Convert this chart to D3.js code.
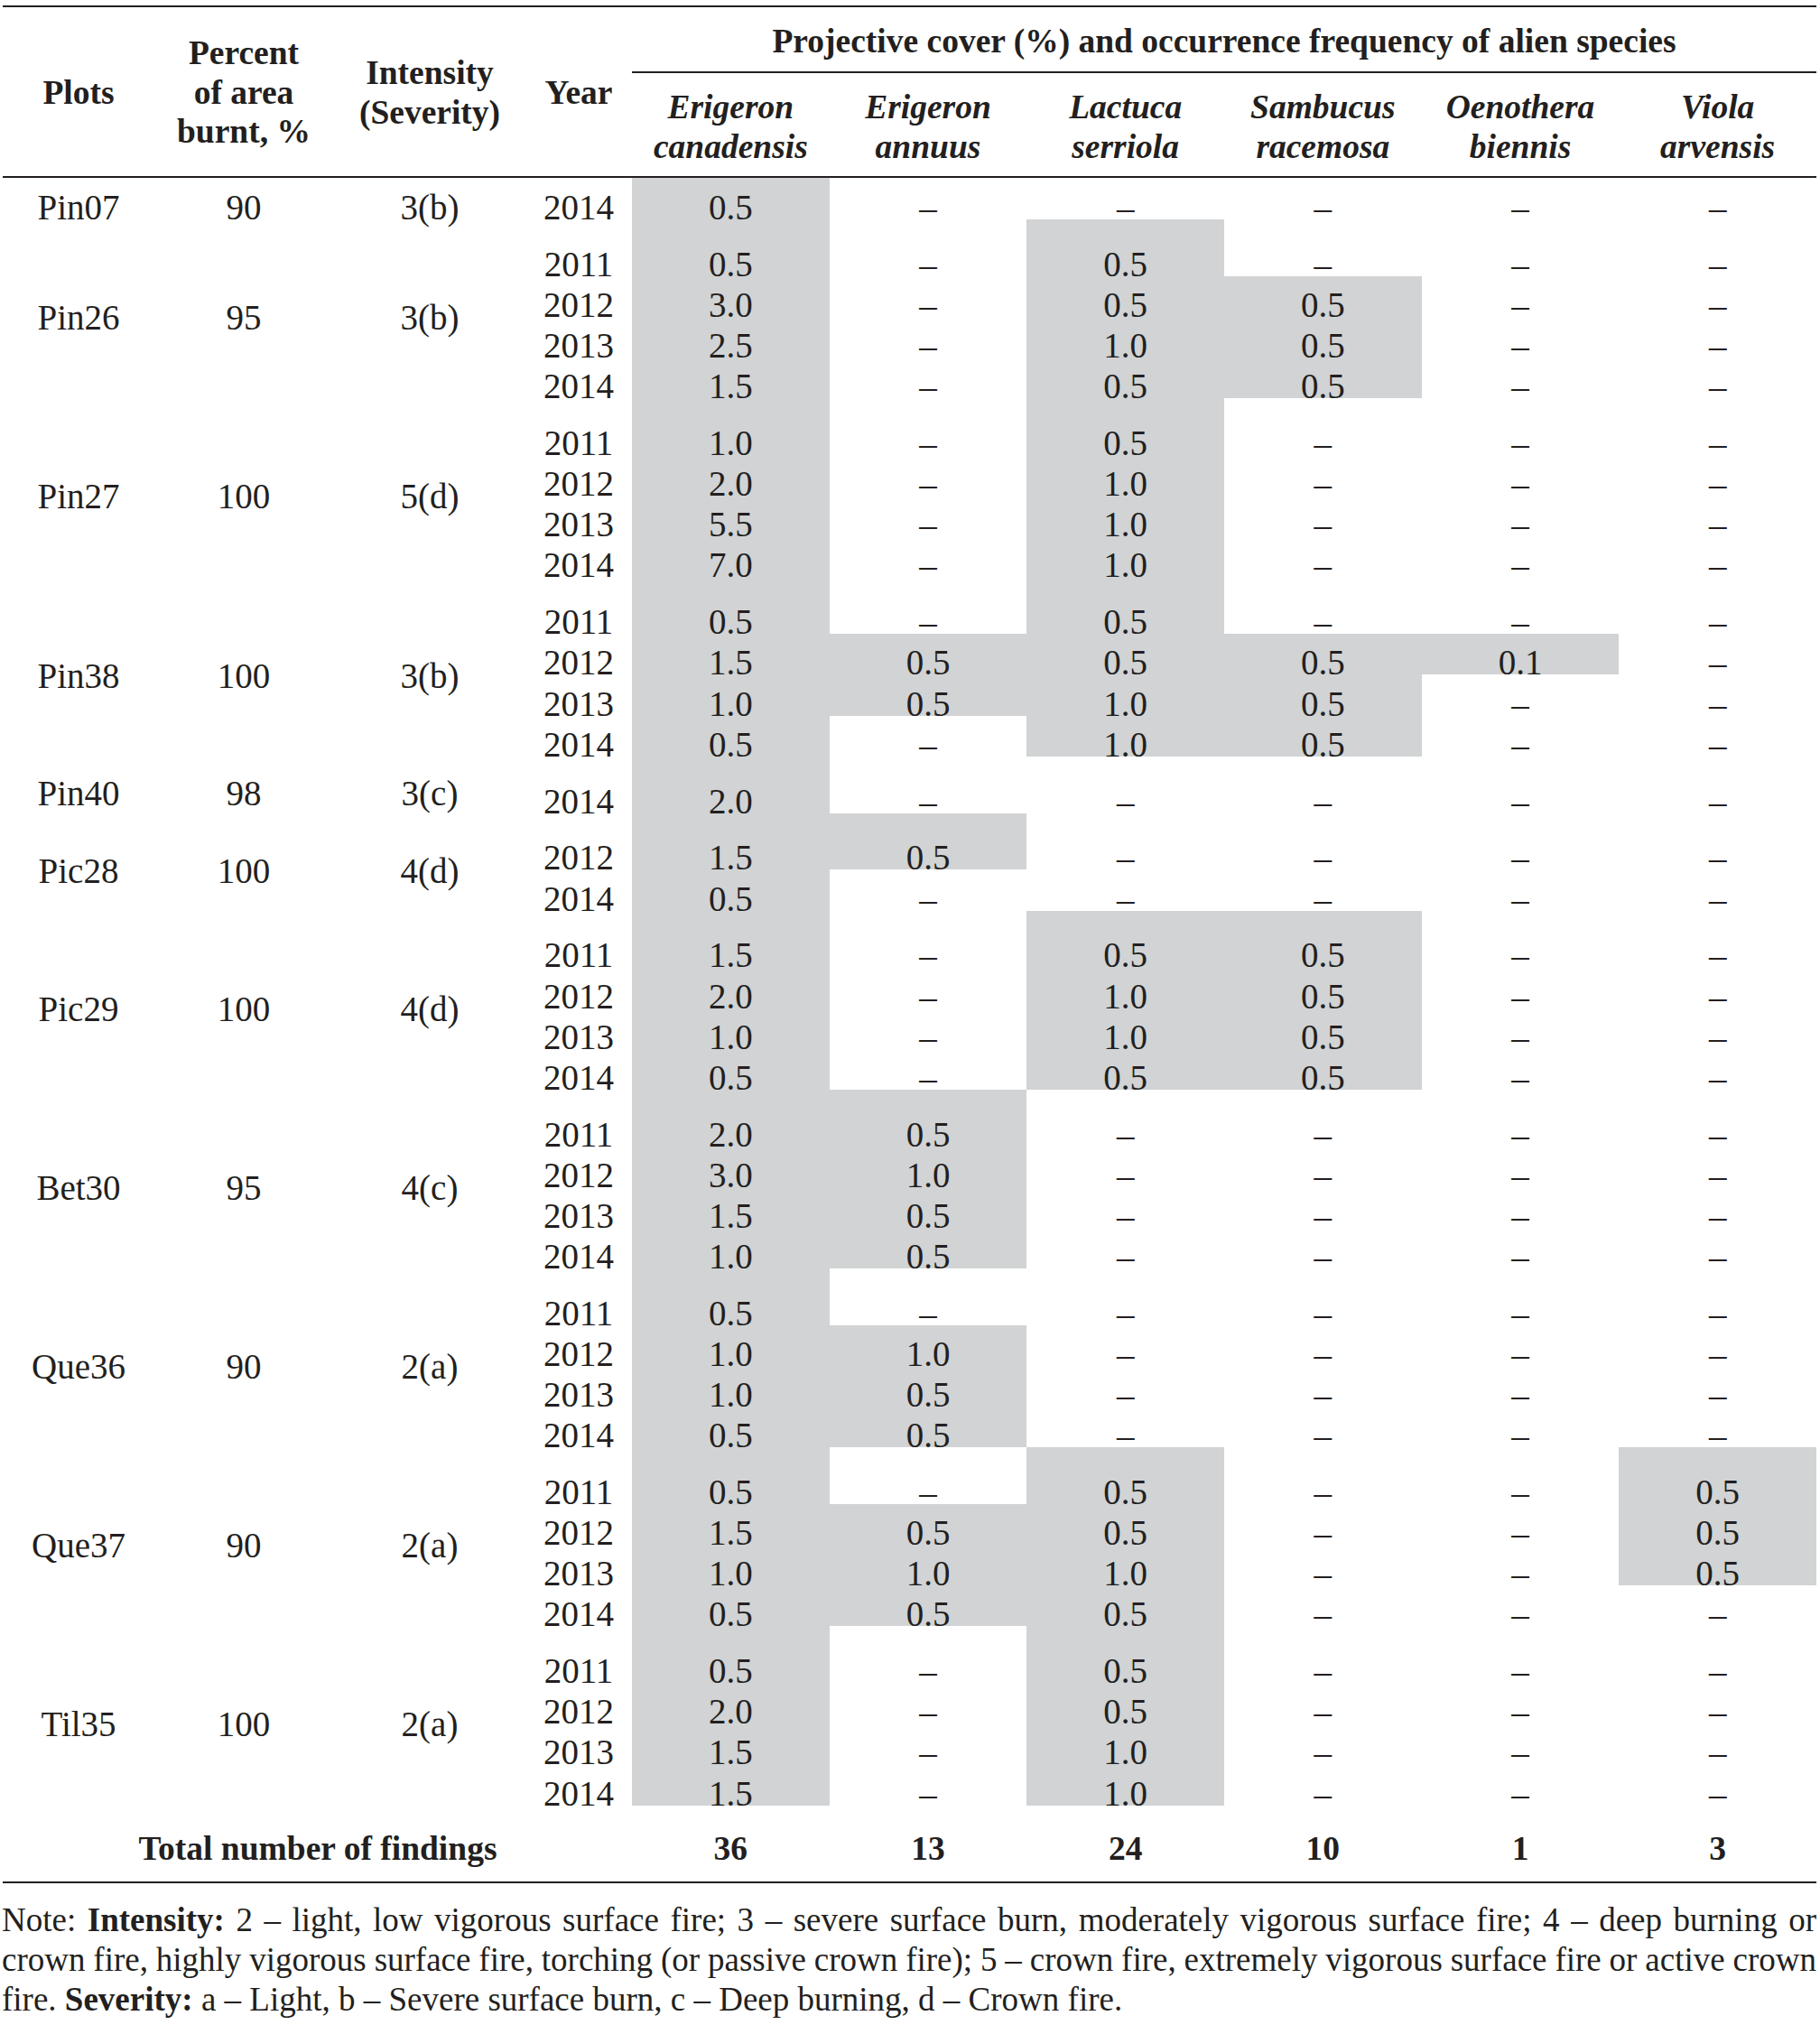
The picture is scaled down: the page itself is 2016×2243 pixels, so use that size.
<!DOCTYPE html>
<html lang="en">
<head>
<meta charset="UTF-8">
<title>Projective cover and occurrence frequency of alien species</title>
<script src="https://d3js.org/d3.v7.min.js"></script>
<style>
  body { margin: 0; background: #fff; }
  text { font-family: "Liberation Serif", "Times New Roman", serif; fill: #231f20; }
</style>
</head>
<body>
<svg width="2016" height="2243"></svg>
<script>

var plots     = ["Pin07", "Pin26", "Pin27", "Pin38", "Pin40", "Pic28", "Pic29", "Bet30", "Que36", "Que37", "Til35"];
var burnt     = [90, 95, 100, 100, 98, 100, 100, 95, 90, 90, 100];
var intensity = ["3(b)", "3(b)", "5(d)", "3(b)", "3(c)", "4(d)", "4(d)", "4(c)", "2(a)", "2(a)", "2(a)"];
var plotYears = [
  [2014],
  [2011, 2012, 2013, 2014],
  [2011, 2012, 2013, 2014],
  [2011, 2012, 2013, 2014],
  [2014],
  [2012, 2014],
  [2011, 2012, 2013, 2014],
  [2011, 2012, 2013, 2014],
  [2011, 2012, 2013, 2014],
  [2011, 2012, 2013, 2014],
  [2011, 2012, 2013, 2014]
];

var speciesNames = [
  ["Erigeron", "canadensis"],
  ["Erigeron", "annuus"],
  ["Lactuca", "serriola"],
  ["Sambucus", "racemosa"],
  ["Oenothera", "biennis"],
  ["Viola", "arvensis"]
];

// one value per row (36 rows, plots in order above), null = "–"
var erigeronCanadensis = [0.5,  0.5, 3.0, 2.5, 1.5,  1.0, 2.0, 5.5, 7.0,  0.5, 1.5, 1.0, 0.5,  2.0,  1.5, 0.5,
                          1.5, 2.0, 1.0, 0.5,  2.0, 3.0, 1.5, 1.0,  0.5, 1.0, 1.0, 0.5,  0.5, 1.5, 1.0, 0.5,  0.5, 2.0, 1.5, 1.5];
var erigeronAnnuus     = [null, null, null, null, null,  null, null, null, null,  null, 0.5, 0.5, null,  null,  0.5, null,
                          null, null, null, null,  0.5, 1.0, 0.5, 0.5,  null, 1.0, 0.5, 0.5,  null, 0.5, 1.0, 0.5,  null, null, null, null];
var lactucaSerriola    = [null, 0.5, 0.5, 1.0, 0.5,  0.5, 1.0, 1.0, 1.0,  0.5, 0.5, 1.0, 1.0,  null,  null, null,
                          0.5, 1.0, 1.0, 0.5,  null, null, null, null,  null, null, null, null,  0.5, 0.5, 1.0, 0.5,  0.5, 0.5, 1.0, 1.0];
var sambucusRacemosa   = [null, null, 0.5, 0.5, 0.5,  null, null, null, null,  null, 0.5, 0.5, 0.5,  null,  null, null,
                          0.5, 0.5, 0.5, 0.5,  null, null, null, null,  null, null, null, null,  null, null, null, null,  null, null, null, null];
var oenotheraBiennis   = [null, null, null, null, null,  null, null, null, null,  null, 0.1, null, null,  null,  null, null,
                          null, null, null, null,  null, null, null, null,  null, null, null, null,  null, null, null, null,  null, null, null, null];
var violaArvensis      = [null, null, null, null, null,  null, null, null, null,  null, null, null, null,  null,  null, null,
                          null, null, null, null,  null, null, null, null,  null, null, null, null,  0.5, 0.5, 0.5, null,  null, null, null, null];

var totals = [36, 13, 24, 10, 1, 3];

var noteLines = [
  [["Note: ", false], ["Intensity:", true], [" 2 – light, low vigorous surface fire; 3 – severe surface burn, moderately vigorous surface fire; 4 – deep burning or", false]],
  [["crown fire, highly vigorous surface fire, torching (or passive crown fire); 5 – crown fire, extremely vigorous surface fire or active crown", false]],
  [["fire. ", false], ["Severity:", true], [" a – Light, b – Severe surface burn, c – Deep burning, d – Crown fire.", false]]
];

// ---- layout ----
var W = 2016, H = 2243;
var left = 3, right = 2012;
var bodySize = 39, headSize = 37.5, noteSize = 37;
var rowPitch = 45.1, groupGap = 17.8;
var ink = "#231f20", shade = "#d1d3d4";

var colX = { plots: 87, burnt: 270, intensity: 476, year: 641 };

var series = [erigeronCanadensis, erigeronAnnuus, lactucaSerriola, sambucusRacemosa, oenotheraBiennis, violaArvensis];
var speciesKeys = speciesNames.map(function(d) { return d.join(" "); });

var x = d3.scaleBand()
  .domain(speciesKeys)
  .range([700, right])
  .padding(0);

// build rows with a running position (in row units, gaps counted separately)
var rows = [];
var groups = [];
var slot = 0;
plots.forEach(function(p, gi) {
  if (gi > 0) slot += groupGap / rowPitch;
  var first = rows.length;
  plotYears[gi].forEach(function(yr, k) {
    if (k > 0 || gi > 0) slot += 1;
    rows.push({ plot: p, year: yr, slot: slot, group: gi });
  });
  groups.push({ plot: p, burnt: burnt[gi], intensity: intensity[gi], first: first, last: rows.length - 1 });
});

var y = d3.scaleLinear()
  .domain([0, 1])
  .range([243, 243 + rowPitch]);

var fmt = d3.format(".1f");
var headerLineY = 196;

function cellTop(i) {
  return i === 0 ? headerLineY + 1 : y(rows[i - 1].slot);
}

var svg = d3.select("svg")
  .attr("width", W)
  .attr("height", H)
  .attr("viewBox", "0 0 " + W + " " + H);

svg.append("rect").attr("width", W).attr("height", H).attr("fill", "#fff");

// shaded cells (present values)
series.forEach(function(vals, si) {
  svg.append("g")
    .selectAll("rect")
    .data(vals.map(function(v, i) { return { v: v, i: i }; }).filter(function(d) { return d.v !== null; }))
    .enter()
    .append("rect")
    .attr("x", x(speciesKeys[si]))
    .attr("width", x.bandwidth())
    .attr("y", function(d) { return cellTop(d.i); })
    .attr("height", function(d) { return y(rows[d.i].slot) - cellTop(d.i); })
    .attr("fill", shade)
    .attr("shape-rendering", "crispEdges");
});

// rules
function rule(x1, x2, yy) {
  svg.append("line")
    .attr("x1", x1).attr("x2", x2)
    .attr("y1", yy).attr("y2", yy)
    .attr("stroke", ink)
    .attr("stroke-width", 2);
}
rule(left, right, 7);
rule(700, right, 80);
rule(left, right, headerLineY);
rule(left, right, 2085);

// header
function headText(tx, ty, s, italic) {
  svg.append("text")
    .attr("x", tx).attr("y", ty)
    .attr("text-anchor", "middle")
    .style("font-size", headSize + "px")
    .style("font-weight", "bold")
    .style("font-style", italic ? "italic" : "normal")
    .text(s);
}
headText(colX.plots, 115, "Plots");
headText(colX.burnt, 71, "Percent");
headText(colX.burnt, 115, "of area");
headText(colX.burnt, 158, "burnt, %");
headText(colX.intensity, 93, "Intensity");
headText(colX.intensity, 137, "(Severity)");
headText(colX.year, 115, "Year");
headText((700 + right) / 2, 58, "Projective cover (%) and occurrence frequency of alien species");

speciesNames.forEach(function(n, si) {
  var cx = x(speciesKeys[si]) + x.bandwidth() / 2;
  headText(cx, 131, n[0], true);
  headText(cx, 175, n[1], true);
});

// body text
function bodyText(tx, ty, s) {
  svg.append("text")
    .attr("x", tx).attr("y", ty)
    .attr("text-anchor", "middle")
    .style("font-size", bodySize + "px")
    .text(s);
}

groups.forEach(function(g) {
  var top = cellTop(g.first);
  var bottom = y(rows[g.last].slot);
  var ly = (top + bottom) / 2 + 23;
  bodyText(colX.plots, ly, g.plot);
  bodyText(colX.burnt, ly, g.burnt);
  bodyText(colX.intensity, ly, g.intensity);
});

rows.forEach(function(r, i) {
  var ty = y(r.slot);
  bodyText(colX.year, ty, r.year);
  series.forEach(function(vals, si) {
    var cx = x(speciesKeys[si]) + x.bandwidth() / 2;
    bodyText(cx, ty, vals[i] === null ? "–" : fmt(vals[i]));
  });
});

// totals row
svg.append("text")
  .attr("x", 352).attr("y", 2060)
  .attr("text-anchor", "middle")
  .style("font-size", headSize + "px")
  .style("font-weight", "bold")
  .text("Total number of findings");

totals.forEach(function(t, si) {
  svg.append("text")
    .attr("x", x(speciesKeys[si]) + x.bandwidth() / 2)
    .attr("y", 2060)
    .attr("text-anchor", "middle")
    .style("font-size", headSize + "px")
    .style("font-weight", "bold")
    .text(t);
});

// note, first two lines justified
noteLines.forEach(function(parts, li) {
  var t = svg.append("text")
    .attr("x", 2)
    .attr("y", 2139 + li * 44)
    .style("font-size", noteSize + "px");
  parts.forEach(function(p) {
    t.append("tspan")
      .style("font-weight", p[1] ? "bold" : "normal")
      .text(p[0]);
  });
  if (li < noteLines.length - 1) {
    var full = parts.map(function(p) { return p[0]; }).join("");
    var spaces = full.split(" ").length - 1;
    var len = t.node().getComputedTextLength();
    var extra = (right - 2 - len) / spaces;
    t.style("word-spacing", extra + "px");
  }
});

</script>
</body>
</html>
